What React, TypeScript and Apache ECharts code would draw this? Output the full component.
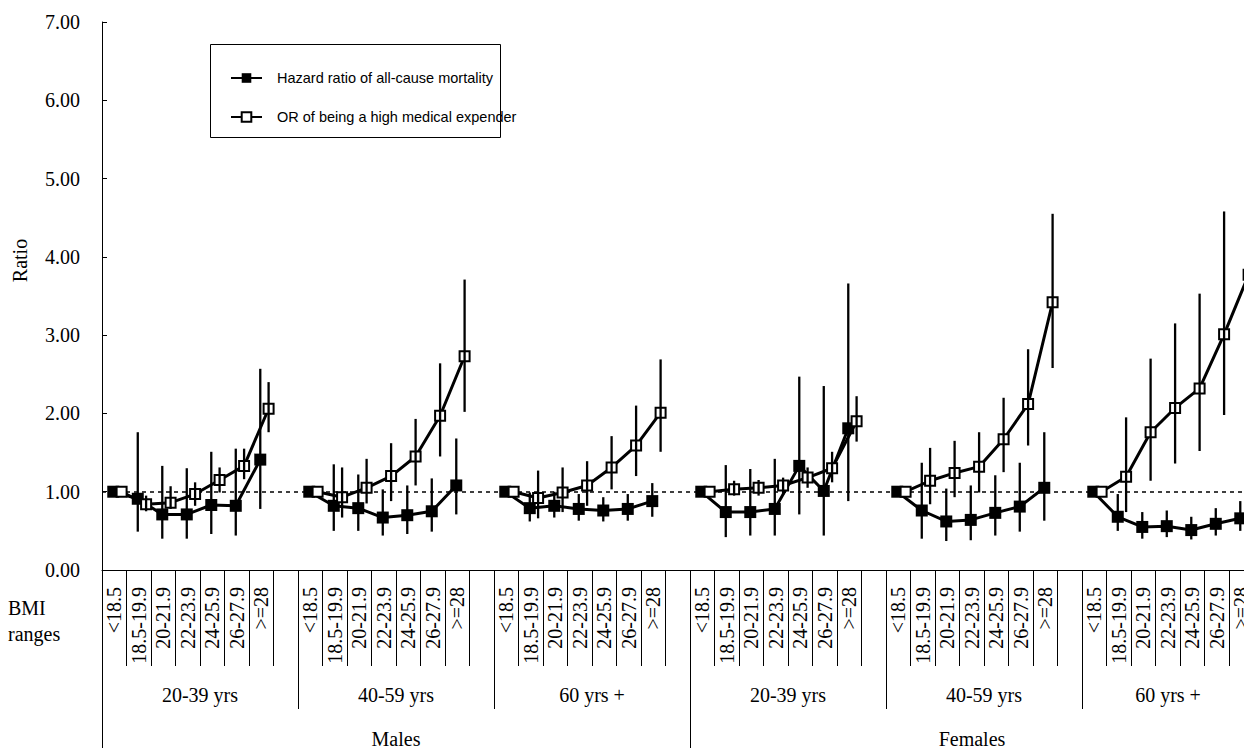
import React, { useEffect, useRef } from "react";
import * as echarts from "echarts";

// ---- categories ----
const bmiRanges = ["<18.5", "18.5-19.9", "20-21.9", "22-23.9", "24-25.9", "26-27.9", ">=28"];
const ageGroups = ["20-39 yrs", "40-59 yrs", "60 yrs +"];
const sexes = ["Males", "Females"];

const HR_NAME = "Hazard ratio of all-cause mortality";
const OR_NAME = "OR of being a high medical expender";

// ---- values: one row per sex/age group (Males 20-39, 40-59, 60+, Females 20-39, 40-59, 60+) ----
const hrValues = [
  [1.0, 0.91, 0.71, 0.71, 0.83, 0.82, 1.41],
  [1.0, 0.82, 0.79, 0.67, 0.7, 0.75, 1.08],
  [1.0, 0.79, 0.82, 0.78, 0.76, 0.78, 0.88],
  [1.0, 0.74, 0.74, 0.78, 1.33, 1.01, 1.81],
  [1.0, 0.76, 0.62, 0.64, 0.73, 0.81, 1.05],
  [1.0, 0.68, 0.55, 0.56, 0.51, 0.59, 0.66],
];
const hrLower = [
  [null, 0.49, 0.4, 0.4, 0.46, 0.44, 0.78],
  [null, 0.5, 0.5, 0.44, 0.46, 0.49, 0.71],
  [null, 0.62, 0.67, 0.63, 0.62, 0.63, 0.68],
  [null, 0.42, 0.44, 0.44, 0.71, 0.44, 0.88],
  [null, 0.4, 0.37, 0.38, 0.44, 0.49, 0.63],
  [null, 0.5, 0.4, 0.42, 0.39, 0.44, 0.5],
];
const hrUpper = [
  [null, 1.76, 1.33, 1.3, 1.51, 1.55, 2.57],
  [null, 1.35, 1.22, 1.03, 1.08, 1.17, 1.68],
  [null, 0.99, 1.0, 0.97, 0.93, 0.97, 1.11],
  [null, 1.34, 1.29, 1.42, 2.47, 2.35, 3.66],
  [null, 1.37, 1.04, 1.08, 1.21, 1.37, 1.76],
  [null, 0.97, 0.74, 0.76, 0.68, 0.79, 0.88],
];
const orValues = [
  [1.0, 0.84, 0.86, 0.97, 1.15, 1.33, 2.06],
  [1.0, 0.93, 1.05, 1.2, 1.45, 1.97, 2.73],
  [1.0, 0.92, 0.99, 1.08, 1.31, 1.59, 2.01],
  [1.0, 1.03, 1.05, 1.08, 1.18, 1.3, 1.9],
  [1.0, 1.14, 1.24, 1.32, 1.67, 2.12, 3.42],
  [1.0, 1.19, 1.76, 2.07, 2.32, 3.01, 3.77],
];
const orLower = [
  [null, 0.75, 0.78, 0.82, 0.99, 1.16, 1.76],
  [null, 0.67, 0.85, 0.88, 1.08, 1.45, 2.02],
  [null, 0.66, 0.74, 0.82, 1.03, 1.2, 1.51],
  [null, 0.95, 0.95, 0.96, 1.05, 1.12, 1.64],
  [null, 0.84, 0.93, 0.99, 1.25, 1.59, 2.58],
  [null, 0.74, 1.14, 1.36, 1.52, 1.98, 2.6],
];
const orUpper = [
  [null, 0.95, 1.07, 1.12, 1.31, 1.55, 2.4],
  [null, 1.31, 1.42, 1.62, 1.93, 2.64, 3.71],
  [null, 1.27, 1.31, 1.39, 1.71, 2.1, 2.69],
  [null, 1.14, 1.15, 1.18, 1.31, 1.51, 2.22],
  [null, 1.56, 1.65, 1.76, 2.2, 2.82, 4.55],
  [null, 1.95, 2.7, 3.15, 3.53, 4.58, 5.6],
];

const SLOTS = bmiRanges.length + 1; // 7 ranges + one empty slot per group
const GROUPS = sexes.length * ageGroups.length;
const HR_OFF = 0.46;
const OR_OFF = 0.8;

const SERIF = "Liberation Serif";
const SANS = "Liberation Sans";

function lineData(vals: number[][], off: number) {
  const out: any[] = [];
  vals.forEach((row, g) => {
    row.forEach((v, i) => out.push([g * SLOTS + i + off, v]));
    out.push([g * SLOTS + SLOTS - 0.5, "-"]);
  });
  return out;
}
function barData(lo: (number | null)[][], hi: (number | null)[][], off: number) {
  const out: any[] = [];
  lo.forEach((row, g) => {
    row.forEach((l, i) => {
      const h = hi[g][i];
      if (l != null && h != null) out.push([g * SLOTS + i + off, l, h]);
    });
  });
  return out;
}

const bmiAxisData: string[] = [];
for (let g = 0; g < GROUPS; g++) {
  bmiRanges.forEach((b) => bmiAxisData.push(b));
  bmiAxisData.push("");
}
const groupAxisData: any[] = [];
sexes.forEach((s, si) =>
  ageGroups.forEach((a, ai) => {
    const last = si === sexes.length - 1 && ai === ageGroups.length - 1;
    groupAxisData.push(last ? { value: a, textStyle: { padding: [0, 24, 0, 0] } } : a);
  })
);
const sexAxisData: any[] = sexes.map((s, i) =>
  i === sexes.length - 1 ? { value: s, textStyle: { padding: [0, 24, 0, 0] } } : s
);

function errorRender(params: any, api: any) {
  const x = api.value(0);
  const p1 = api.coord([x, api.value(1)]);
  const p2 = api.coord([x, api.value(2)]);
  return {
    type: "line",
    shape: { x1: p1[0], y1: p1[1], x2: p2[0], y2: p2[1] },
    style: { stroke: "#000", lineWidth: 2.3 },
  };
}

export default function App() {
  const ref = useRef<HTMLDivElement>(null);
  useEffect(() => {
    document.body.style.margin = "0";
    document.body.style.overflow = "hidden";
    document.documentElement.style.overflow = "hidden";
    const chart = echarts.init(ref.current!, null, { renderer: "svg" });
    const catAxisBase = {
      type: "category",
      position: "bottom",
      gridIndex: 0,
      boundaryGap: true,
      axisLine: { show: false },
      splitLine: { show: false },
    };
    chart.setOption({
      animation: false,
      backgroundColor: "#fff",
      grid: { left: 102, top: 22, right: 12, bottom: 178, containLabel: false },
      legend: {
        data: [HR_NAME, OR_NAME],
        orient: "vertical",
        left: 230,
        top: 67,
        padding: 0,
        itemWidth: 31,
        itemHeight: 12,
        itemGap: 17,
        borderWidth: 0,
        textStyle: {
          fontFamily: SANS,
          fontSize: 14.5,
          color: "#000",
          lineHeight: 22,
          padding: [0, 0, 0, 10],
        },
      },
      graphic: [
        {
          type: "rect",
          shape: { x: 210.5, y: 44.5, width: 290, height: 93 },
          style: { fill: "none", stroke: "#000", lineWidth: 1 },
          z: 0,
        },
        {
          type: "text",
          left: 8,
          top: 598,
          style: { text: "BMI", fontFamily: SERIF, fontSize: 20, fill: "#000" },
        },
        {
          type: "text",
          left: 8,
          top: 624,
          style: { text: "ranges", fontFamily: SERIF, fontSize: 20, fill: "#000" },
        },
      ],
      xAxis: [
        { type: "value", min: 0, max: SLOTS * GROUPS, show: false, gridIndex: 0 },
        {
          ...catAxisBase,
          data: bmiAxisData,
          axisLine: { show: true, lineStyle: { color: "#000", width: 1 } },
          axisTick: { show: true, interval: 0, length: 96, lineStyle: { color: "#000", width: 1 } },
          axisLabel: {
            interval: 0,
            rotate: 90,
            margin: 17,
            fontFamily: SERIF,
            fontSize: 20,
            color: "#000",
          },
        },
        {
          ...catAxisBase,
          data: groupAxisData,
          axisTick: { show: true, interval: 0, length: 139, lineStyle: { color: "#000", width: 1 } },
          axisLabel: { interval: 0, margin: 115, fontFamily: SERIF, fontSize: 20, color: "#000" },
        },
        {
          ...catAxisBase,
          data: sexAxisData,
          axisTick: { show: true, interval: 0, length: 178, lineStyle: { color: "#000", width: 1 } },
          axisLabel: { interval: 0, margin: 159, fontFamily: SERIF, fontSize: 20, color: "#000" },
        },
      ],
      yAxis: {
        type: "value",
        min: 0,
        max: 7,
        interval: 1,
        name: "Ratio",
        nameLocation: "middle",
        nameGap: 72,
        nameTextStyle: { fontFamily: SERIF, fontSize: 20, color: "#000", padding: [0, 0, 0, 71] },
        axisLine: { show: true, lineStyle: { color: "#000", width: 1 } },
        axisTick: { show: true, inside: true, length: 5, lineStyle: { color: "#000" } },
        axisLabel: {
          margin: 22,
          fontFamily: SERIF,
          fontSize: 20,
          color: "#000",
          formatter: (v: number) => v.toFixed(2),
        },
        splitLine: { show: false },
      },
      series: [
        {
          name: HR_NAME,
          type: "line",
          xAxisIndex: 0,
          yAxisIndex: 0,
          data: lineData(hrValues, HR_OFF),
          symbol: "rect",
          symbolSize: 12,
          connectNulls: false,
          itemStyle: { color: "#000" },
          lineStyle: { color: "#000", width: 3 },
          z: 3,
          markLine: {
            silent: true,
            symbol: ["none", "none"],
            label: { show: false },
            lineStyle: { color: "#000", type: [4, 4], width: 1.5 },
            data: [{ yAxis: 1 }],
            z: 1,
          },
        },
        {
          name: OR_NAME,
          type: "line",
          xAxisIndex: 0,
          yAxisIndex: 0,
          data: lineData(orValues, OR_OFF),
          symbol: "rect",
          symbolSize: 10,
          connectNulls: false,
          itemStyle: { color: "#fff", borderColor: "#000", borderWidth: 2 },
          lineStyle: { color: "#000", width: 3 },
          z: 4,
        },
        {
          name: "hrErr",
          type: "custom",
          xAxisIndex: 0,
          yAxisIndex: 0,
          data: barData(hrLower, hrUpper, HR_OFF),
          encode: { x: 0, y: [1, 2] },
          renderItem: errorRender,
          silent: true,
          z: 5,
        },
        {
          name: "orErr",
          type: "custom",
          xAxisIndex: 0,
          yAxisIndex: 0,
          data: barData(orLower, orUpper, OR_OFF),
          encode: { x: 0, y: [1, 2] },
          renderItem: errorRender,
          silent: true,
          z: 5,
        },
      ],
    });
    return () => chart.dispose();
  }, []);
  return <div ref={ref} style={{ width: 1290, height: 749 }} />;
}
